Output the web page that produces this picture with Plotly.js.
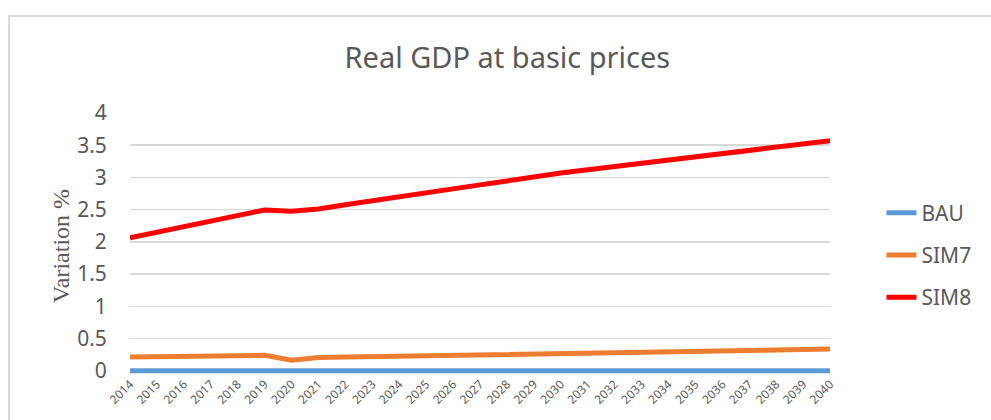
<!DOCTYPE html>
<html>
<head>
<meta charset="utf-8">
<script src="https://cdn.plot.ly/plotly-3.0.1.min.js"></script>
<style>
html,body{margin:0;padding:0;background:#fff;overflow:hidden;}
#frame{position:absolute;left:8px;top:15px;width:1000px;height:420px;border-left:2px solid #d9d9d9;border-top:2px solid #d9d9d9;box-sizing:border-box;pointer-events:none;z-index:5;}
#chart{position:absolute;left:0;top:0;width:991px;height:420px;}
</style>
</head>
<body>
<div id="chart"></div>
<div id="frame"></div>
<script>
var years = ["2014","2015","2016","2017","2018","2019","2020","2021","2022","2023","2024","2025","2026","2027","2028","2029","2030","2031","2032","2033","2034","2035","2036","2037","2038","2039","2040"];
var bau  = [0,0,0,0,0,0,0,0,0,0,0,0,0,0,0,0,0,0,0,0,0,0,0,0,0,0,0];
var sim7 = [0.215,0.22,0.225,0.23,0.235,0.24,0.165,0.205,0.212,0.218,0.225,0.232,0.24,0.247,0.254,0.261,0.268,0.275,0.282,0.289,0.296,0.303,0.31,0.317,0.324,0.331,0.337];
var sim8 = [2.065,2.15,2.235,2.32,2.405,2.495,2.475,2.51,2.575,2.64,2.705,2.765,2.825,2.885,2.945,3.01,3.07,3.12,3.17,3.22,3.27,3.32,3.37,3.42,3.47,3.52,3.57];
var seriesNames = ["BAU","SIM7","SIM8"];
var yTicks = [0,0.5,1,1.5,2,2.5,3,3.5,4];
var yTickText = ["0","0.5","1","1.5","2","2.5","3","3.5","4"];
var yTitle = "Variation %";

var colors = ["#5B9BD5","#ED7D31","#FF0000"];
var data = [bau, sim7, sim8].map(function(v,i){
  return {x: years, y: v, type: "scatter", mode: "lines", name: seriesNames[i],
          legendgroup: "g" + i,
          line: {color: colors[i], width: 5}, hoverinfo: "x+y+name"};
});

var layout = {
  width: 991, height: 420,
  paper_bgcolor: "#fff", plot_bgcolor: "#fff",
  margin: {l: 130, r: 161, t: 113, b: 46},
  font: {family: "Noto Sans, Liberation Sans, sans-serif", color: "#595959"},
  title: {text: "Real GDP at basic prices", x: 0.512, xanchor: "center", y: 0.862, yanchor: "middle",
          font: {size: 29, color: "#595959", family: "Noto Sans, sans-serif"}},
  xaxis: {type: "category", tickangle: -45, tickfont: {size: 12, color: "#595959"},
          showgrid: false, zeroline: false, showline: false, ticks: "", ticklen: 0,
          automargin: false},
  yaxis: {range: [-0.05, 4.0], tickvals: yTicks, ticktext: yTickText,
          tickfont: {size: 21, color: "#595959"}, showgrid: true, gridcolor: "#d9d9d9", gridwidth: 1.5,
          zeroline: false, showline: false, ticks: "outside", ticklen: 8, tickcolor: "rgba(255,255,255,0)",
          ticklabelstandoff: 10, automargin: false},
  annotations: [{text: yTitle, xref: "paper", yref: "paper", x: -0.0978, y: 0.489,
                 xanchor: "center", yanchor: "middle", textangle: -90, showarrow: false,
                 font: {family: "Liberation Serif, DejaVu Serif, serif", size: 24, color: "#595959"}}],
  legend: {x: 1.0735, xanchor: "left", y: 0.456, yanchor: "middle", font: {size: 21, color: "#595959"},
           traceorder: "grouped", tracegroupgap: 12, bgcolor: "rgba(0,0,0,0)"},
  showlegend: true
};
Plotly.newPlot("chart", data, layout, {displayModeBar: false, staticPlot: true});
</script>
</body>
</html>
